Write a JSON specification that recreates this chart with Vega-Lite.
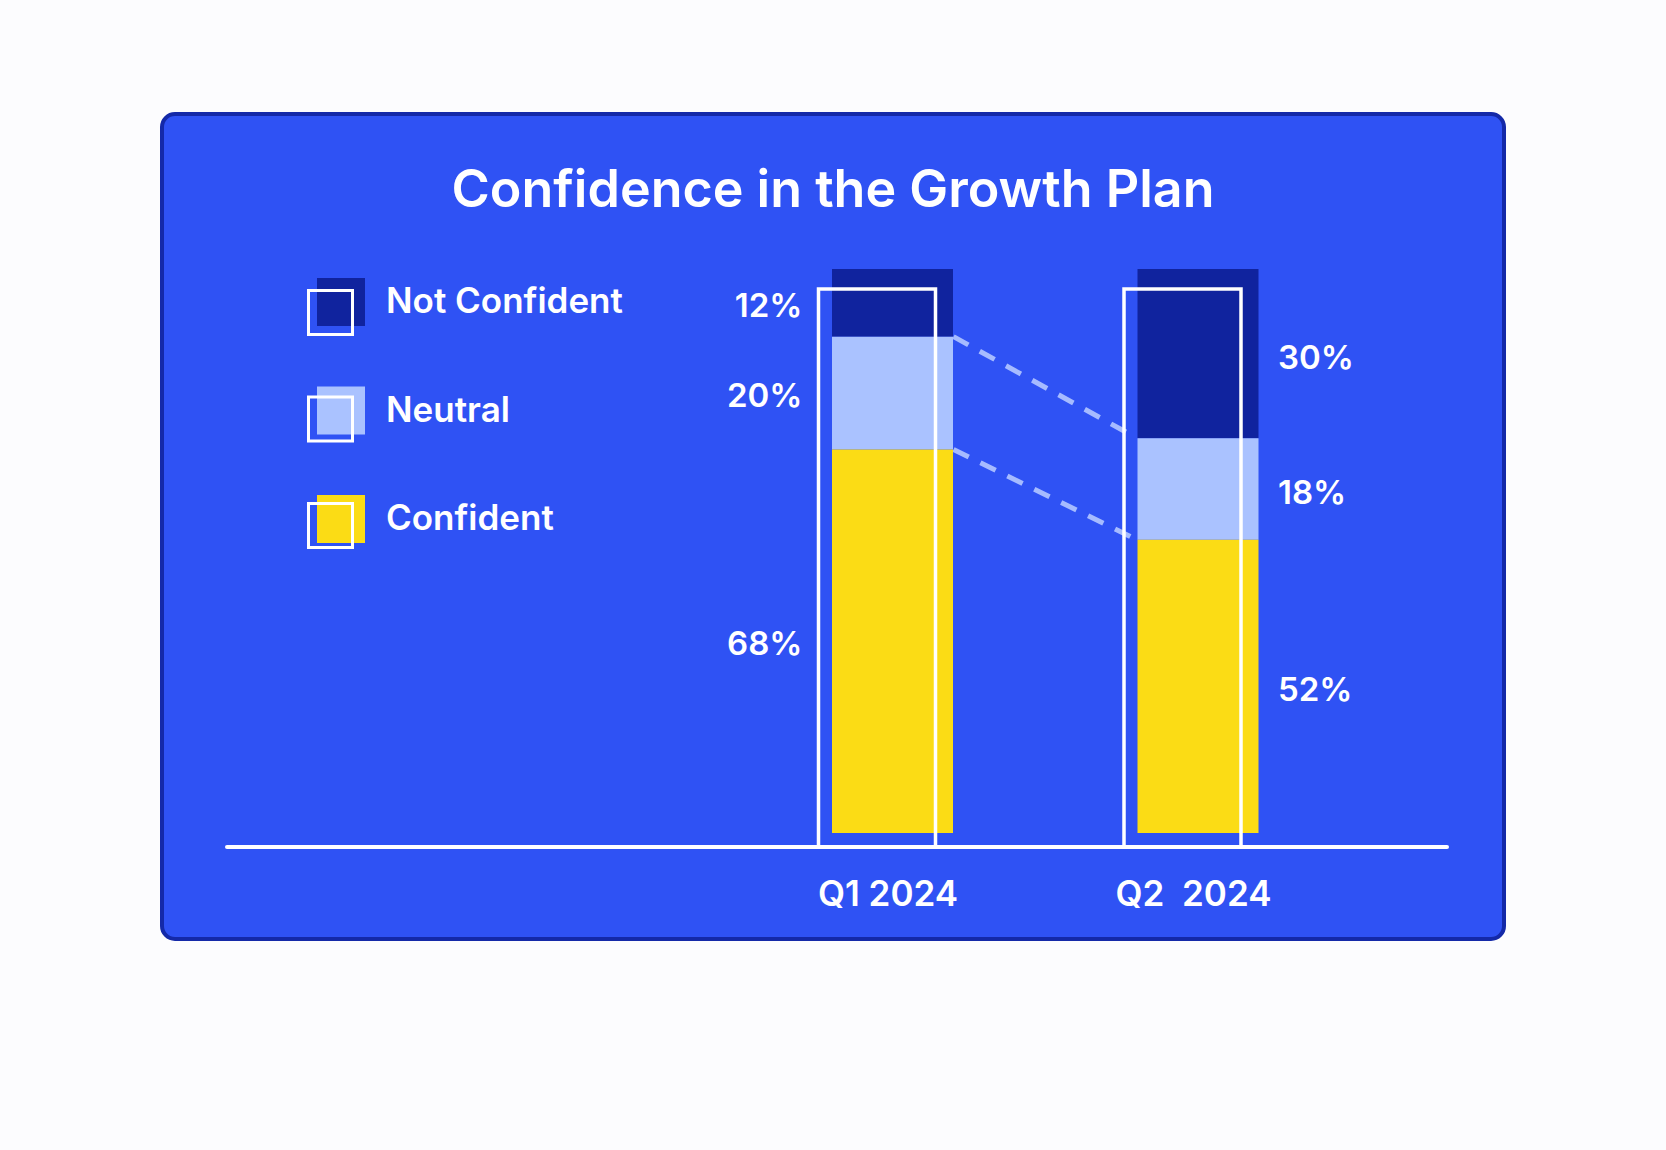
{
  "$schema": "https://vega.github.io/schema/vega-lite/v6.json",
  "width": 1342,
  "height": 825,
  "autosize": {"type": "none"},
  "padding": {"left": 162, "top": 114, "right": 162, "bottom": 211},
  "background": "#FCFCFE",
  "config": {
    "view": {"fill": "#2F52F4", "stroke": "#1429A8", "strokeWidth": 4, "cornerRadius": 13},
    "font": "Inter"
  },
  "title": {
    "text": "Confidence in the Growth Plan",
    "anchor": "middle",
    "frame": "group",
    "font": "Inter",
    "fontSize": 52,
    "fontWeight": 600,
    "color": "#FFFFFF",
    "baseline": "alphabetic",
    "offset": -145
  },
  "data": {
    "values": [
      {"quarter": "Q1 2024", "category": "Not Confident", "pct": 0.12},
      {"quarter": "Q1 2024", "category": "Neutral", "pct": 0.20},
      {"quarter": "Q1 2024", "category": "Confident", "pct": 0.68},
      {"quarter": "Q2\u00a0 2024", "category": "Not Confident", "pct": 0.30},
      {"quarter": "Q2\u00a0 2024", "category": "Neutral", "pct": 0.18},
      {"quarter": "Q2\u00a0 2024", "category": "Confident", "pct": 0.52}
    ]
  },
  "layer": [
    {
      "transform": [
        {"stack": "pct", "groupby": ["quarter"], "sort": [{"field": "category", "order": "ascending"}], "as": ["v0", "v1"]},
        {"filter": "datum.category === 'Neutral'"},
        {"fold": ["v0", "v1"], "as": ["edge", "val"]},
        {"pivot": "quarter", "value": "val", "groupby": ["edge"]}
      ],
      "mark": {"type": "rule", "stroke": "#A6BBFF", "strokeWidth": 5, "strokeDash": [17, 13], "xOffset": 61, "x2Offset": -61},
      "encoding": {
        "x": {"datum": "Q1 2024", "type": "nominal", "scale": {"type": "point", "domain": ["Q1 2024", "Q2\u00a0 2024"], "range": [730.5, 1036], "padding": 0}},
        "x2": {"datum": "Q2\u00a0 2024"},
        "y": {"field": "Q1 2024", "type": "quantitative", "scale": {"domain": [-0.1879, 1.2748], "zero": false, "nice": false}, "axis": null},
        "y2": {"field": "Q2\u00a0 2024"}
      }
    },
    {
      "transform": [{"aggregate": [{"op": "count", "as": "n"}]}],
      "mark": {"type": "rule", "stroke": "#FFFFFF", "strokeWidth": 4, "strokeCap": "round", "yOffset": 14, "xOffset": -665.5, "x2Offset": 249},
      "encoding": {
        "x": {"datum": "Q1 2024", "type": "nominal"},
        "x2": {"datum": "Q2\u00a0 2024"},
        "y": {"datum": 0, "type": "quantitative"}
      }
    },
    {
      "transform": [
        {"stack": "pct", "groupby": ["quarter"], "sort": [{"field": "category", "order": "ascending"}], "as": ["v0", "v1"]}
      ],
      "mark": {"type": "bar", "width": 121, "strokeWidth": 0},
      "encoding": {
        "x": {
          "field": "quarter",
          "type": "nominal",
          "axis": {
            "orient": "bottom", "offset": -106, "domain": false, "ticks": false, "tickSize": 0,
            "labelPadding": 72, "labelBaseline": "alphabetic", "labelAlign": "center", "labelAngle": 0, "labelOffset": -5,
            "labelFont": "Inter", "labelFontSize": 35, "labelFontWeight": 600, "labelColor": "#FFFFFF",
            "title": null, "grid": false
          }
        },
        "y": {"field": "v1", "type": "quantitative"},
        "y2": {"field": "v0"},
        "color": {
          "field": "category",
          "type": "nominal",
          "scale": {"domain": ["Not Confident", "Neutral", "Confident"], "range": ["#10239E", "#AAC2FF", "#FBDC15"]},
          "legend": {
            "orient": "none", "legendX": 155, "legendY": 164, "title": null, "padding": 0,
            "symbolType": "square", "symbolSize": 2304, "symbolStrokeWidth": 0, "symbolOpacity": 1,
            "labelFont": "Inter", "labelFontSize": 35, "labelFontWeight": 600, "labelColor": "#FFFFFF",
            "labelOffset": 21, "labelLimit": 500, "rowPadding": 60.5
          }
        },
        "stroke": {
          "field": "category",
          "type": "nominal",
          "scale": {"range": ["#FFFFFF", "#FFFFFF", "#FFFFFF"]},
          "legend": {
            "orient": "none", "legendX": 145, "legendY": 175, "title": null, "padding": 0,
            "symbolType": "square", "symbolSize": 1936, "symbolStrokeWidth": 3, "symbolFillColor": "transparent", "symbolStrokeColor": "#FFFFFF",
            "labelFontSize": 1, "labelOpacity": 0, "rowPadding": 49.5
          }
        }
      }
    },
    {
      "transform": [
        {"stack": "pct", "groupby": ["quarter"], "sort": [{"field": "category", "order": "ascending"}], "as": ["v0", "v1"]},
        {"aggregate": [{"op": "max", "field": "v1", "as": "top"}, {"op": "min", "field": "v0", "as": "bottom"}], "groupby": ["quarter"]}
      ],
      "mark": {"type": "bar", "width": 117, "fill": "transparent", "stroke": "#FFFFFF", "strokeWidth": 3.5, "xOffset": -15.5, "yOffset": 20, "y2Offset": 14},
      "encoding": {
        "x": {"field": "quarter", "type": "nominal"},
        "y": {"field": "top", "type": "quantitative"},
        "y2": {"field": "bottom"}
      }
    },
    {
      "transform": [
        {"filter": "datum.quarter === 'Q1 2024'"},
        {"stack": "pct", "groupby": ["quarter"], "sort": [{"field": "category", "order": "ascending"}], "as": ["v0", "v1"]},
        {"fold": ["v0", "v1"], "as": ["edge", "val"]},
        {"aggregate": [{"op": "mean", "field": "val", "as": "mid"}], "groupby": ["quarter", "category", "pct"]}
      ],
      "mark": {"type": "text", "align": "right", "baseline": "middle", "xOffset": -90, "dy": 4, "font": "Inter", "fontSize": 33, "fontWeight": 600, "color": "#FFFFFF"},
      "encoding": {
        "x": {"field": "quarter", "type": "nominal"},
        "y": {"field": "mid", "type": "quantitative"},
        "text": {"field": "pct", "type": "quantitative", "format": ".0%"}
      }
    },
    {
      "transform": [
        {"filter": "datum.quarter !== 'Q1 2024'"},
        {"stack": "pct", "groupby": ["quarter"], "sort": [{"field": "category", "order": "ascending"}], "as": ["v0", "v1"]},
        {"fold": ["v0", "v1"], "as": ["edge", "val"]},
        {"aggregate": [{"op": "mean", "field": "val", "as": "mid"}], "groupby": ["quarter", "category", "pct"]}
      ],
      "mark": {"type": "text", "align": "left", "baseline": "middle", "xOffset": 80, "dy": 5, "font": "Inter", "fontSize": 33, "fontWeight": 600, "color": "#FFFFFF"},
      "encoding": {
        "x": {"field": "quarter", "type": "nominal"},
        "y": {"field": "mid", "type": "quantitative"},
        "text": {"field": "pct", "type": "quantitative", "format": ".0%"}
      }
    }
  ]
}
